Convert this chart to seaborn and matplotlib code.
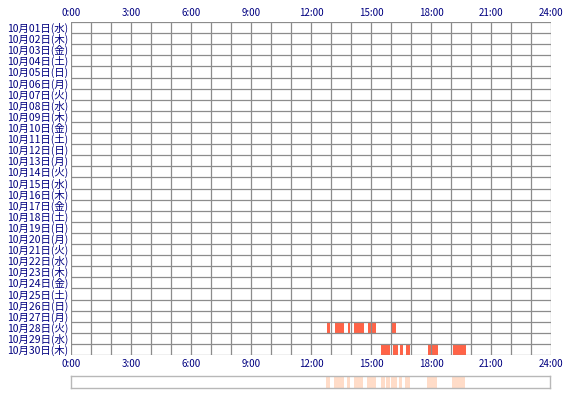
import matplotlib
matplotlib.use("Agg")
import matplotlib.pyplot as plt
import seaborn as sns

sns.set_style("white")
plt.rcParams['font.family'] = ['Noto Sans CJK JP', 'DejaVu Sans']

weekdays = ["水","木","金","土","日","月","火"]
days = [f"10月{d:02d}日({weekdays[(d-1)%7]})" for d in range(1, 31)]
tick_hours = [0, 3, 6, 9, 12, 15, 18, 21, 24]
tick_labels = [f"{h}:00" for h in tick_hours]
# (day index, start hour, end hour)
seg_day = [27]*6 + [29]*7
seg_start = [12.80, 13.18, 13.83, 14.17, 14.83, 16.02,
             15.52, 15.77, 16.10, 16.43, 16.75, 17.83, 19.10]
seg_end = [12.97, 13.66, 13.97, 14.63, 15.27, 16.27,
           15.73, 15.97, 16.33, 16.58, 16.97, 18.35, 19.75]

fig = plt.figure(figsize=(5.7, 4.0), dpi=100)
W, H = 570, 400
ax = fig.add_axes([71/W, 1-355/H, 480/W, 333/H])
n = len(days)
for d, s, e in zip(seg_day, seg_start, seg_end):
    ax.broken_barh([(s, e-s)], (d, 1), facecolors='#ff6347', edgecolor='none', zorder=1)
ax.set_xlim(0, 24)
ax.set_ylim(n, 0)
for h in range(25):
    ax.axvline(h, color='#8c8c8c', lw=0.9, zorder=2)
for r in range(n+1):
    ax.axhline(r, color='#8c8c8c', lw=0.9, zorder=2)
for sp in ax.spines.values():
    sp.set_visible(False)
ax.set_yticks([i+0.5 for i in range(n)])
ax.set_yticklabels(days, fontsize=7.5, color='#000080')
ax.set_xticks(tick_hours)
ax.set_xticklabels(tick_labels, fontsize=7, color='#000080')
ax.tick_params(axis='both', length=0, pad=2)
ax.tick_params(axis='x', top=True, labeltop=True, bottom=True, labelbottom=True, pad=3)

ax2 = fig.add_axes([71/W, 1-388/H, 479/W, 12/H])
for s, e in zip(seg_start, seg_end):
    ax2.axvspan(s, e, color='#ffdcc8', lw=0, zorder=0)
ax2.set_xlim(0, 24)
ax2.set_xticks([]); ax2.set_yticks([])
for sp in ax2.spines.values():
    sp.set_color('#b8b8b8'); sp.set_linewidth(1); sp.set_zorder(5)
fig.savefig("out.png", dpi=100)
